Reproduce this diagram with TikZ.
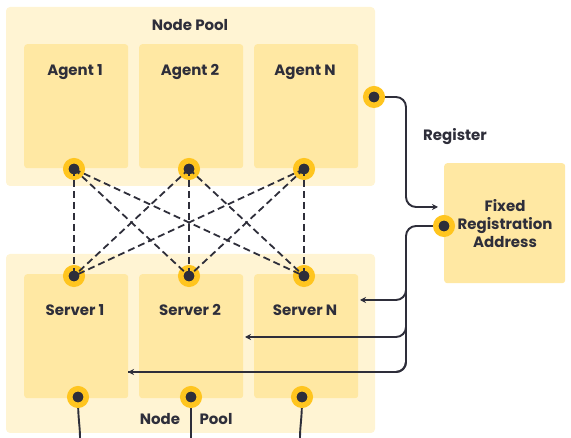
\documentclass[tikz,border=0pt]{standalone}
\usepackage{fontspec}
\setmainfont{Poppins}
\usetikzlibrary{arrows.meta}
\definecolor{poolbg}{HTML}{FFF4D3}
\definecolor{boxbg}{HTML}{FFE8A3}
\definecolor{ring}{HTML}{FFC51F}
\definecolor{ink}{HTML}{2E2E3A}
\begin{document}
\begin{tikzpicture}[x=1pt,y=-1pt]
		\tikzstyle{pool}=[fill=poolbg,rounded corners=4pt]
		\tikzstyle{box}=[fill=boxbg,rounded corners=3pt,minimum width=104pt,minimum height=124pt,anchor=north west,inner sep=0pt]
		\tikzstyle{dot}=[circle,fill=ink,draw=ring,line width=5.5pt,minimum size=16.5pt,inner sep=0pt]
		\tikzstyle{lbl}=[text=ink,font=\bfseries\fontsize{15}{18}\selectfont,align=center]
		\tikzstyle{link}=[draw=ink,line width=1.8pt,dash pattern=on 7pt off 4pt]
		\tikzstyle{wire}=[draw=ink,line width=1.9pt,rounded corners=10pt]
		\useasboundingbox (0,0) rectangle (571,438);
		% pools
		\fill[pool] (6,7) rectangle (375,186);
		\fill[pool] (6,254) rectangle (375,433);
		\node[lbl] (toppool) at (190,25) {Node Pool};
		\node[lbl] (botnode) at (160,419) {Node};
		\node[lbl] (botpool) at (216,419) {Pool};
		\begin{scope}
		\node[box] (a1) at (24,44)  {};
		\node[box] (a2) at (139,44) {};
		\node[box] (a3) at (254,44) {};
		\node[box] (s1) at (24,274)  {};
		\node[box] (s2) at (139,274) {};
		\node[box] (s3) at (254,274) {};
		\node[box,minimum width=121pt,minimum height=120pt] (fra) at (444,163) {};
		\end{scope}
		\node[lbl] at (75,72)  {Agent 1};
		\node[lbl] at (190,72) {Agent 2};
		\node[lbl] at (305,72) {Agent N};
		\node[lbl] at (75,310)  {Server 1};
		\node[lbl] at (190,310) {Server 2};
		\node[lbl] at (305,310) {Server N};
		\node[lbl] at (505,224) {Fixed\\Registration\\Address};
		\node[lbl] (reg) at (455,137) {Register};
		
		% wires
		\coordinate (d1) at (360,300);
		\coordinate (d2) at (245,337);
		\coordinate (d3) at (128,372);
		\draw[wire,-{Stealth[length=6pt,width=6pt]}] (374,97) -| (406,207) -- (438,207);
		\node[dot] (pa) at (374,97) {};
		\draw[wire] (444,226) -| (406,372) -- (d3);
		\draw[wire,-{Stealth[length=6pt,width=6pt]}] (406,280) |- (d1);
		\draw[wire,-{Stealth[length=6pt,width=6pt]}] (406,320) |- (d2);
		\draw[wire,-{Stealth[length=6pt,width=6pt]}] (406,360) |- (d3);
		\node[dot] (pf) at (444,226) {};
		
		% bottom wires
		\draw[draw=ink,line width=1.9pt] (78,397) .. controls (78,420) and (80,425) .. (80,438);
		\draw[draw=ink,line width=1.9pt] (191,397) -- (191,438);
		\draw[draw=ink,line width=1.9pt] (302,397) .. controls (302,420) and (300,425) .. (300,438);
		
		% ports
		\node[dot] (t1) at (74,169)  {};
		\node[dot] (t2) at (189,169) {};
		\node[dot] (t3) at (304,169) {};
		\node[dot] (b1) at (74,276)  {};
		\node[dot] (b2) at (189,276) {};
		\node[dot] (b3) at (304,276) {};
		\node[dot] (u1) at (78,397)  {};
		\node[dot] (u2) at (191,397) {};
		\node[dot] (u3) at (302,397) {};
		
		\path[link]
		(t1.center) edge (b1.center)
		(t1.center) edge (b2.center)
		(t1.center) edge (b3.center)
		(t2.center) edge (b1.center)
		(t2.center) edge (b2.center)
		(t2.center) edge (b3.center)
		(t3.center) edge (b1.center)
		(t3.center) edge (b2.center)
		(t3.center) edge (b3.center)
		;
		\end{tikzpicture}
\end{document}
